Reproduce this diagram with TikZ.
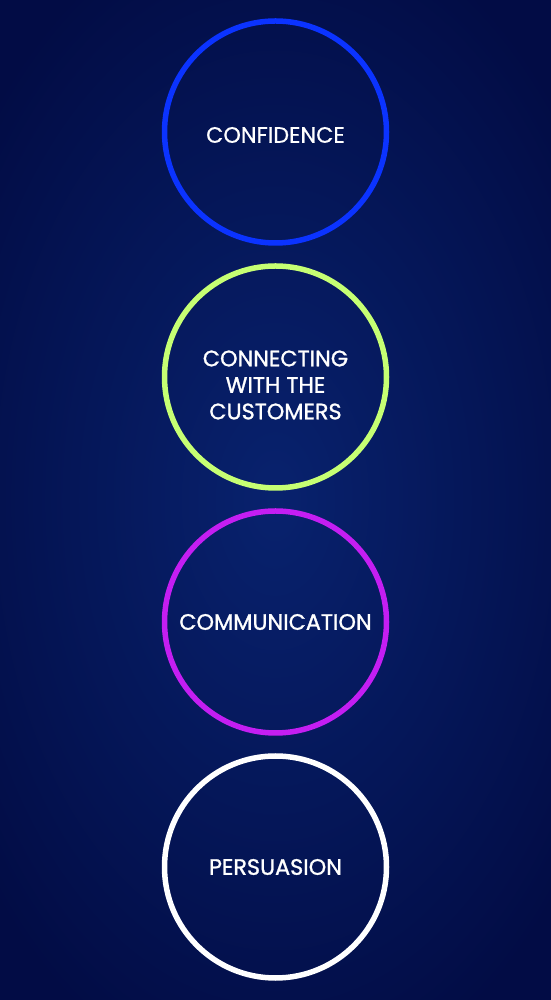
\documentclass[tikz,border=0pt]{standalone}
\usepackage{fontspec}
\setmainfont{Poppins}
\newfontfamily\regfont[FakeBold=0.7]{Poppins}
\newfontfamily\medfont[FakeBold=1.2]{Poppins}
\definecolor{bgin}{HTML}{08226E}
\definecolor{bgout}{HTML}{020C45}
\definecolor{cblue}{HTML}{0B33FF}
\definecolor{clime}{HTML}{C6FF73}
\definecolor{cpurple}{HTML}{C41EF2}
\begin{document}
\begin{tikzpicture}[x=1pt,y=1pt,
  ring/.style={circle,line width=5.5pt,minimum size=222pt,inner sep=0pt},
  label/.style={text=white,align=center,inner sep=0pt,font=\medfont\fontsize{22.3}{26.5}\selectfont}]
\useasboundingbox (0,0) rectangle (550,1000);
\shade[inner color=bgin,outer color=bgout] (-100,-100) rectangle (650,1100);
\node[ring,draw=cblue] (c1) at (275.5,868) {};
\node[ring,draw=clime] (c2) at (275.5,623) {};
\node[ring,draw=cpurple] (c3) at (275.5,378) {};
\node[ring,draw=white] (c4) at (275.5,133) {};
\node[label,font=\regfont\fontsize{22.3}{26.5}\selectfont] (t1) at ([yshift=-3pt]c1.center) {CONFIDENCE};
\node[label] (t2) at ([yshift=-8pt]c2.center) {CONNECTING\\WITH THE\\CUSTOMERS};
\node[label] (t3) at (c3.center) {COMMUNICATION};
\node[label] (t4) at (c4.center) {PERSUASION};
\end{tikzpicture}
\end{document}
